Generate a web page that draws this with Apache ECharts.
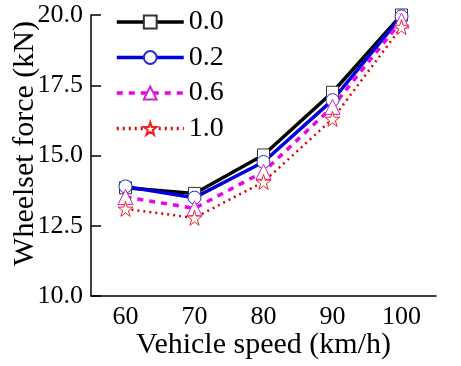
<!DOCTYPE html>
<html><head><meta charset="utf-8">
<script src="https://cdn.jsdelivr.net/npm/echarts@6/dist/echarts.min.js"></script>
<style>html,body{margin:0;padding:0;background:#fff}#c{width:461px;height:366px}</style>
</head><body><div id="c"></div>
<script>
var speeds = ['60', '70', '80', '90', '100'];
var yTicks = [10.0, 12.5, 15.0, 17.5, 20.0];
var s00 = [13.85, 13.65, 15.02, 17.25, 20.0];
var s02 = [13.9, 13.5, 14.77, 16.97, 19.95];
var s06 = [13.52, 13.12, 14.42, 16.73, 19.8];
var s10 = [13.1, 12.78, 14.06, 16.3, 19.57];
var names = ['0.0', '0.2', '0.6', '1.0'];

var font = '"Liberation Serif", "Times New Roman", serif';
function mk(name, data, color, mcolor, type, width, symbol, size) {
  return {
    name: name, type: 'line', data: data, symbol: symbol, symbolSize: size,
    lineStyle: { color: color, width: width, type: type },
    itemStyle: { color: '#fff', borderColor: mcolor, borderWidth: 1 },
    emphasis: { disabled: true }
  };
}
var chart = echarts.init(document.getElementById('c'));
chart.setOption({
  animation: false,
  backgroundColor: '#fff',
  grid: { left: 91, right: 25, top: 15, bottom: 70, containLabel: false, outerBoundsMode: 'none' },
  legend: {
    left: 110, top: 3, orient: 'vertical', itemWidth: 67, itemHeight: 16, itemGap: 7.5,
    textStyle: { fontFamily: font, fontSize: 28, color: '#000' },
    lineStyle: { width: 3.5 },
    data: names
  },
  xAxis: {
    type: 'category', data: speeds, boundaryGap: true,
    name: 'Vehicle speed (km/h)', nameLocation: 'middle', nameGap: 34, nameMoveOverlap: false,
    nameTextStyle: { fontFamily: font, fontSize: 30, color: '#000' },
    axisLine: { lineStyle: { color: '#000', width: 1.5 } },
    axisTick: { alignWithLabel: true, inside: true, length: 12, lineStyle: { color: '#000', width: 1.5 } },
    axisLabel: { fontFamily: font, fontSize: 26, color: '#000', margin: 8 },
    splitLine: { show: false }
  },
  yAxis: {
    type: 'value', min: yTicks[0], max: yTicks[yTicks.length - 1], interval: 2.5,
    name: 'Wheelset force (kN)', nameLocation: 'middle', nameGap: 51, nameMoveOverlap: false,
    nameTextStyle: { fontFamily: font, fontSize: 30, color: '#000', padding: [0, 0, 0, 24] },
    axisLine: { show: true, lineStyle: { color: '#000', width: 1.5 } },
    axisTick: { show: true, inside: true, length: 10, lineStyle: { color: '#000', width: 1.5 } },
    axisLabel: { fontFamily: font, fontSize: 26, color: '#000', margin: 8, formatter: function (v) { return v.toFixed(1); } },
    splitLine: { show: false }
  },
  series: [
    mk(names[0], s00, '#000000', '#333333', 'solid', 3.5, 'rect', 12),
    mk(names[1], s02, '#0000e0', '#2a2ad0', 'solid', 3.5, 'circle', 13),
    mk(names[2], s06, '#ee00ee', '#cc22cc', [6, 6], 3.5, 'triangle', 15),
    mk(names[3], s10, '#dd0000', '#ee2222', [2, 4], 2.5, 'path://M50,0 L61.8,36.2 L100,36.2 L69.1,58.8 L80.9,95.1 L50,72.7 L19.1,95.1 L30.9,58.8 L0,36.2 L38.2,36.2 Z', 15)
  ]
});
</script></body></html>
